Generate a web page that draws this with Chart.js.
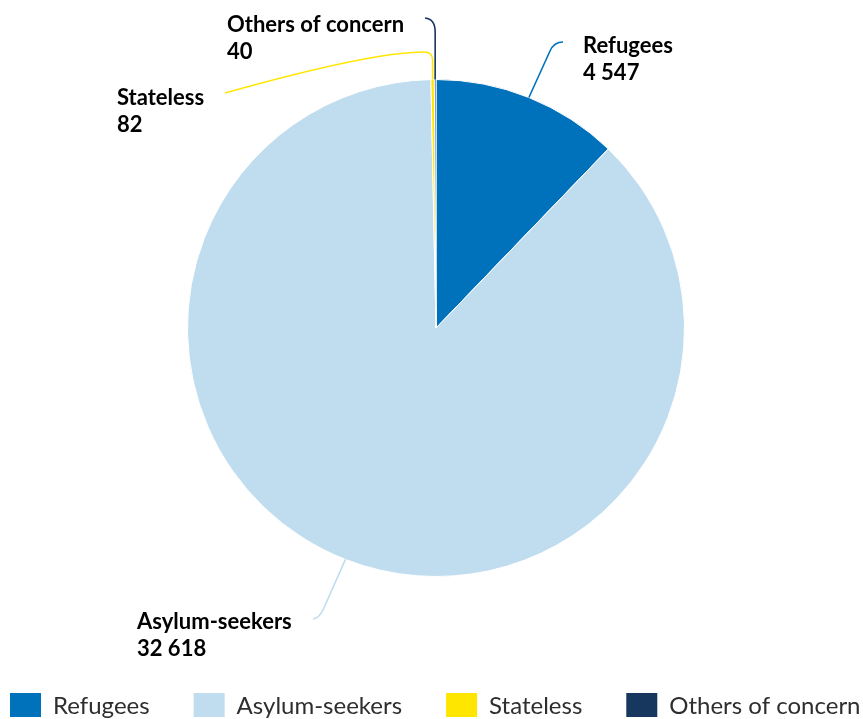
<!DOCTYPE html>
<html>
<head>
<meta charset="utf-8">
<script src="https://cdn.jsdelivr.net/npm/chart.js@4/dist/chart.umd.min.js"></script>
<style>
html,body{margin:0;padding:0;background:#fff}
#wrap{width:863px;height:719px}
</style>
</head>
<body>
<div id="wrap"><canvas id="myChart"></canvas></div>
<script>
const categorias = ['Refugees', 'Asylum-seekers', 'Stateless', 'Others of concern']
const valores = [4547, 32618, 82, 40]
const textoValores = ['4 547', '32 618', '82', '40']
const colores = ['#0072BC', '#BFDDEE', '#FFE600', '#18375F']

// where each label sits and how its leader line runs (anchor comes from the arc)
const posEtiquetas = [
  {x: 583, y: 53, linea: (c, a) => { c.moveTo(a.x, a.y); c.lineTo(550, 51); c.quadraticCurveTo(554, 42, 563, 42) }},
  {x: 137, y: 629, linea: (c, a) => { c.moveTo(a.x, a.y); c.lineTo(323, 610); c.quadraticCurveTo(319, 618, 313, 619) }},
  {x: 117, y: 105, linea: (c, a) => { c.moveTo(a.x, a.y); c.lineTo(a.x, 60); c.quadraticCurveTo(a.x, 52, 424, 52); c.bezierCurveTo(380, 52, 300, 72, 225, 93) }},
  {x: 227, y: 32, linea: (c, a) => { c.moveTo(a.x, a.y); c.lineTo(a.x, 32); c.quadraticCurveTo(a.x, 19, 425, 18) }}
]

const etiquetasPlugin = {
  id: 'etiquetas',
  afterDraw(chart) {
    const ctx = chart.ctx
    const arcs = chart.getDatasetMeta(0).data
    ctx.save()
    arcs.forEach((arc, i) => {
      const p = arc.getProps(['x', 'y', 'startAngle', 'endAngle', 'outerRadius'], true)
      const mid = (p.startAngle + p.endAngle) / 2
      const a = {x: p.x + Math.cos(mid) * p.outerRadius, y: p.y + Math.sin(mid) * p.outerRadius}
      const pos = posEtiquetas[i]
      ctx.beginPath()
      pos.linea(ctx, a)
      ctx.strokeStyle = colores[i]
      ctx.lineWidth = 1.6
      ctx.stroke()
      ctx.fillStyle = '#000'
      ctx.font = 'bold 22px Lato'
      ctx.textBaseline = 'alphabetic'
      ctx.textAlign = 'left'
      ctx.fillText(categorias[i], pos.x, pos.y)
      ctx.fillText(textoValores[i], pos.x, pos.y + 27)
    })
    // leyenda
    let x = 10
    ctx.font = '24px Lato'
    categorias.forEach((cat, i) => {
      ctx.fillStyle = colores[i]
      ctx.fillRect(x, 693, 31, 24)
      ctx.fillStyle = '#2e2e2e'
      ctx.fillText(cat, x + 43, 714)
      x += 43 + ctx.measureText(cat).width + 44
    })
    ctx.restore()
  }
}

const $ctx = document.getElementById('myChart').getContext('2d')
new Chart($ctx, {
  type: 'pie',
  data: {
    labels: categorias,
    datasets: [{
      data: valores,
      backgroundColor: colores,
      borderColor: '#fff',
      borderWidth: 1
    }]
  },
  options: {
    responsive: true,
    maintainAspectRatio: false,
    animation: false,
    layout: {padding: {top: 79, bottom: 142, left: 9, right: 0}},
    plugins: {
      legend: {display: false},
      tooltip: {enabled: false}
    }
  },
  plugins: [etiquetasPlugin]
})
</script>
</body>
</html>
